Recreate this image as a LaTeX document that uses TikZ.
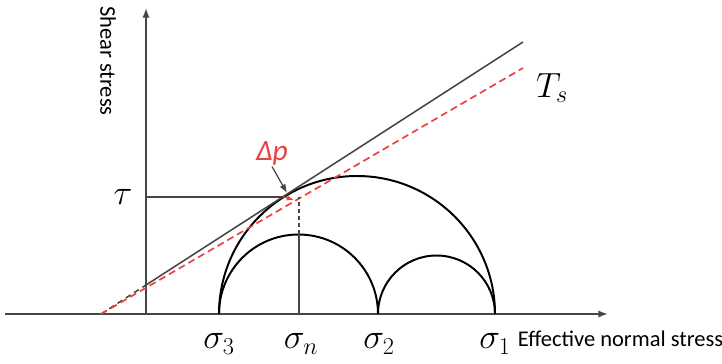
\documentclass[tikz,border=0pt]{standalone}
\usepackage{amsmath,amssymb}
\usepackage{fontspec}
\setmainfont{Carlito}
\usepackage{tikz}
\usetikzlibrary{arrows.meta,positioning,calc}
\usepackage{xcolor}

\definecolor{axisgray}{RGB}{70,70,70}
\definecolor{envcolor}{RGB}{236,64,64}

\begin{document}
\begin{tikzpicture}[x=0.25mm,y=-0.25mm,>=Latex,
  axisline/.style={axisgray,line width=1.2pt,-{Latex[length=2.4mm,width=1.8mm]}},
  mohr/.style={black,line width=1.4pt},
  redenv/.style={envcolor,line width=1.2pt,dash pattern=on 5pt off 3pt},
  guide/.style={axisgray,line width=1pt},
  siglab/.style={font=\fontsize{23}{26}\selectfont,inner sep=0pt}]
\useasboundingbox (0,0) rectangle (722,363);
% axes
\coordinate (O) at (146,314);
\coordinate (xs) at (5,314);
\coordinate (xe) at (608,314);
\coordinate (ye) at (146,8);
\draw[axisline] (xs) -- (xe);
\draw[axisline] (O) -- (ye);
\node[rotate=-90,font=\fontsize{16}{18}\selectfont] (ylab) at (108,61) {Shear stress};
\node[anchor=west,font=\fontsize{16}{18}\selectfont] (xlab) at (513,339) {Effective normal stress};
% principal stresses on the axis
\coordinate (s3) at (219,314);
\coordinate (sn) at (299,314);
\coordinate (s2) at (378,314);
\coordinate (s1) at (495,314);
\node[siglab] (l3) at (219,344) {$\sigma_3$};
\node[siglab] (ln) at (301,344) {$\sigma_n$};
\node[siglab] (l2) at (379,344) {$\sigma_2$};
\node[siglab] (l1) at (495,344) {$\sigma_1$};
% Mohr circles
\draw[mohr] (s1) arc[start angle=0,end angle=-180,radius=138];
\draw[mohr] (s2) arc[start angle=0,end angle=-180,radius=79.5];
\draw[mohr] (s1) arc[start angle=0,end angle=-180,radius=58.5];
% failure envelopes
\coordinate (E0) at (101,314);
\coordinate (Ea) at (146,285);
\coordinate (Eb) at (523,42);
\coordinate (Rb) at (523,68);
\coordinate (T) at (284,197);
\draw[axisgray,line width=1.1pt] (Ea) -- (Eb);
\draw[axisgray,line width=1.1pt,dash pattern=on 4pt off 3pt] (E0) -- (Ea);
\draw[redenv] (E0) -- (Rb);
\node[siglab] (Ts) at (552,88) {$T_s$};
% shear stress at the contact point
\coordinate (ty) at (146,197);
\coordinate (ntop) at (299,234.5);
\coordinate (nup) at (299,197);
\draw[guide] (ty) -- (T);
\node[siglab] (tau) at (123,197) {$\tau$};
\draw[guide] (sn) -- (ntop);
\draw[guide,dash pattern=on 3pt off 2pt] (ntop) -- (nup);
% distance between the two envelopes
\node[text=envcolor,font=\fontsize{21}{23}\selectfont\itshape,inner sep=1pt] (dp) at (272,153) {Δp};
\coordinate (dpa) at (287,193);
\coordinate (dpb) at (294,200);
\draw[axisgray,line width=0.9pt,-{Latex[length=2.2mm]}] (dp.south) -- (dpa);
\draw[envcolor,line width=1pt,-{Latex[length=1.8mm]}] (T) -- (dpb);
\end{tikzpicture}
\end{document}
